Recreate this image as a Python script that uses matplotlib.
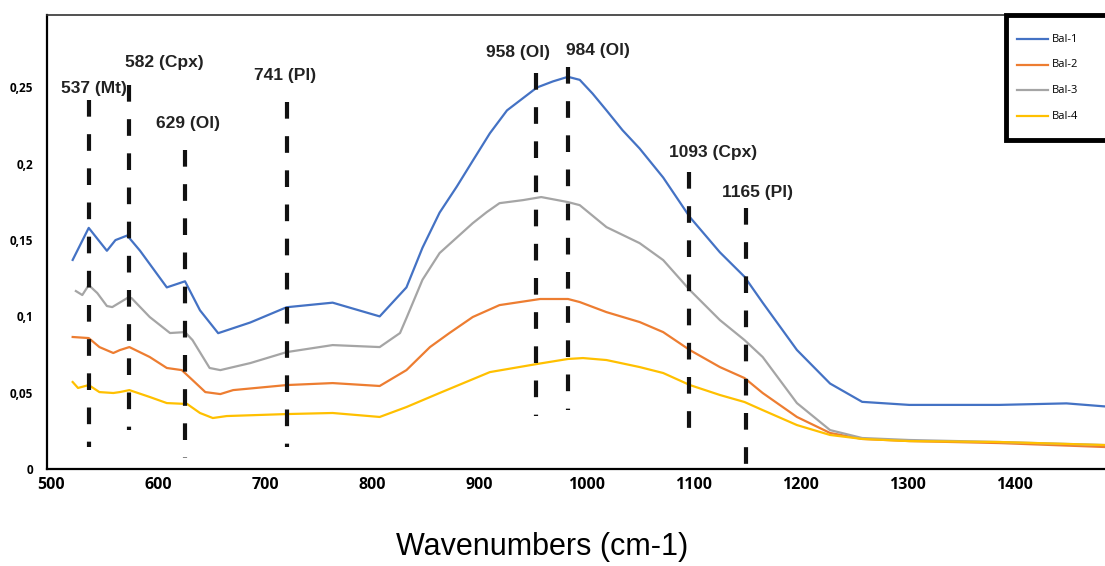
import numpy as np
import matplotlib.pyplot as plt
from matplotlib.patches import Rectangle
from matplotlib.lines import Line2D

# spectra (wavenumber cm-1, absorbance)
wn_bal1 = [520, 535, 552, 560, 571, 583, 608, 625, 639, 656, 686, 720, 763, 807, 832, 847, 863, 879, 894,
           910, 926, 954, 969, 983, 994, 1006, 1019, 1034, 1050, 1072, 1097, 1125, 1148, 1165, 1197, 1228,
           1258, 1302, 1386, 1449, 1485]
bal1 = [0.137, 0.158, 0.143, 0.150, 0.153, 0.143, 0.119, 0.123, 0.104, 0.089, 0.096, 0.106, 0.109, 0.100,
        0.119, 0.145, 0.168, 0.185, 0.202, 0.220, 0.235, 0.250, 0.254, 0.257, 0.255, 0.246, 0.235, 0.222,
        0.210, 0.191, 0.165, 0.142, 0.126, 0.109, 0.078, 0.056, 0.044, 0.042, 0.042, 0.043, 0.041]

wn_bal2 = [520, 535, 545, 558, 564, 573, 592, 608, 622, 632, 644, 658, 670, 720, 763, 807, 832, 854, 872,
           894, 919, 957, 983, 994, 1019, 1050, 1072, 1097, 1125, 1148, 1165, 1197, 1228, 1258, 1302, 1386,
           1485]
bal2 = [0.0865, 0.0858, 0.0799, 0.0760, 0.0779, 0.0799, 0.0734, 0.0662, 0.0648, 0.0583, 0.0504, 0.0491,
        0.0517, 0.0550, 0.0563, 0.0544, 0.0648, 0.0799, 0.0890, 0.0996, 0.1074, 0.1114, 0.1114, 0.1094,
        0.1028, 0.0963, 0.0897, 0.0779, 0.0668, 0.0596, 0.0498, 0.0341, 0.0236, 0.0197, 0.0183, 0.0170,
        0.0144]

wn_bal3 = [523, 529, 535, 543, 552, 557, 571, 575, 592, 611, 625, 632, 648, 658, 686, 720, 763, 807, 826,
           832, 847, 863, 894, 907, 919, 941, 958, 983, 994, 1019, 1050, 1072, 1097, 1125, 1148, 1165,
           1197, 1228, 1258, 1302, 1386, 1485]
bal3 = [0.1166, 0.1140, 0.1205, 0.1153, 0.1068, 0.1061, 0.1120, 0.1120, 0.0996, 0.0891, 0.0897, 0.0845,
        0.0662, 0.0648, 0.0694, 0.0766, 0.0812, 0.0799, 0.0891, 0.0989, 0.1240, 0.1415, 0.1611, 0.1683,
        0.1742, 0.1762, 0.1782, 0.1749, 0.1729, 0.1585, 0.1480, 0.1369, 0.1172, 0.0976, 0.0845, 0.0734,
        0.0432, 0.0255, 0.0203, 0.0190, 0.0177, 0.0157]

wn_bal4 = [520, 525, 535, 545, 558, 564, 573, 592, 608, 627, 639, 651, 664, 720, 763, 807, 832, 863, 910,
           954, 983, 997, 1019, 1050, 1072, 1097, 1125, 1148, 1165, 1197, 1228, 1258, 1302, 1386, 1485]
bal4 = [0.0570, 0.0531, 0.0550, 0.0504, 0.0498, 0.0504, 0.0517, 0.0472, 0.0432, 0.0426, 0.0367, 0.0334,
        0.0347, 0.0360, 0.0367, 0.0341, 0.0406, 0.0498, 0.0635, 0.0688, 0.0721, 0.0727, 0.0714, 0.0668,
        0.0629, 0.0550, 0.0485, 0.0439, 0.0386, 0.0288, 0.0223, 0.0197, 0.0183, 0.0177, 0.0157]

series_names = ['Bal-1', 'Bal-2', 'Bal-3', 'Bal-4']
series_colors = ['#4472C4', '#ED7D31', '#A5A5A5', '#FFC000']

# band markers: position, dashed line top/bottom, label, label position
band_x = [535, 573, 625, 720, 953, 983, 1096, 1149]
band_top = [0.2417, 0.2515, 0.2089, 0.2404, 0.2594, 0.2633, 0.1945, 0.171]
band_bot = [0.0144, 0.0255, 0.0072, 0.0144, 0.0347, 0.0386, 0.0210, -0.002]
band_labels = ['537 (Mt)', '582 (Cpx)', '629 (Ol)', '741 (Pl)', '958 (Ol)', '984 (Ol)', '1093 (Cpx)', '1165 (Pl)']
label_x = [539.7, 606.1, 627.6, 718.2, 936.0, 1010.7, 1118.2, 1160.3]
label_y = [0.2496, 0.2666, 0.2266, 0.2581, 0.2731, 0.2744, 0.2076, 0.1814]

yticks = [0, 0.05, 0.1, 0.15, 0.2, 0.25]
ytick_labels = ['0', '0,05', '0,1', '0,15', '0,2', '0,25']
xticks = [500, 600, 700, 800, 900, 1000, 1100, 1200, 1300, 1400]

W, H = 1105, 566
fig = plt.figure(figsize=(W / 100, H / 100), dpi=100)
ax = fig.add_axes([47 / W, 97 / H, 1 - 47 / W, 454 / H])

for xs, ys, name, c in zip([wn_bal1, wn_bal2, wn_bal3, wn_bal4], [bal1, bal2, bal3, bal4],
                           series_names, series_colors):
    ax.plot(xs, ys, color=c, lw=1.6, label=name)

for x, t, b in zip(band_x, band_top, band_bot):
    ax.plot([x, x], [t, b], color='#111111', lw=3, dashes=(4, 4.2),
            solid_capstyle='butt', dash_capstyle='butt', clip_on=False)
for lab, x, y in zip(band_labels, label_x, label_y):
    ax.text(x, y, lab, ha='center', va='center', fontsize=12.5, fontweight='bold',
            family='Liberation Sans', color='#222222')

ax.set_xlim(496, 1485)
ax.set_ylim(0, 0.2975)
ax.set_yticks(yticks)
ax.set_yticklabels(ytick_labels)
ax.set_xticks(xticks)
ax.tick_params(axis='y', length=0, pad=10, labelsize=8.5)
ax.tick_params(axis='x', length=0, pad=6, labelsize=11.5)
for t in ax.get_yticklabels() + ax.get_xticklabels():
    t.set_fontweight('bold')
    t.set_family('Open Sans')

ax.spines['right'].set_visible(False)
ax.spines['left'].set_linewidth(1.6)
ax.spines['bottom'].set_linewidth(1.6)
ax.spines['top'].set_linewidth(1.2)
ax.spines['top'].set_color('#333333')

# legend box, running off the right edge like the original
fig.add_artist(Rectangle((1006 / W, 1 - 140 / H), 130 / W, 125 / H, transform=fig.transFigure,
                         facecolor='white', edgecolor='black', lw=3.5, zorder=5))
for i, (name, c) in enumerate(zip(series_names, series_colors)):
    yy = 1 - (39 + 25.7 * i) / H
    fig.add_artist(Line2D([1017 / W, 1048 / W], [yy, yy], transform=fig.transFigure,
                          color=c, lw=1.6, zorder=6))
    fig.text(1052 / W, yy, name, ha='left', va='center', fontsize=8, family='Open Sans', zorder=6)

fig.text(542 / W, 1 - 547 / H, 'Wavenumbers (cm-1)', ha='center', va='center',
         fontsize=22, family='Liberation Sans')

fig.savefig('out.png', dpi=100)
